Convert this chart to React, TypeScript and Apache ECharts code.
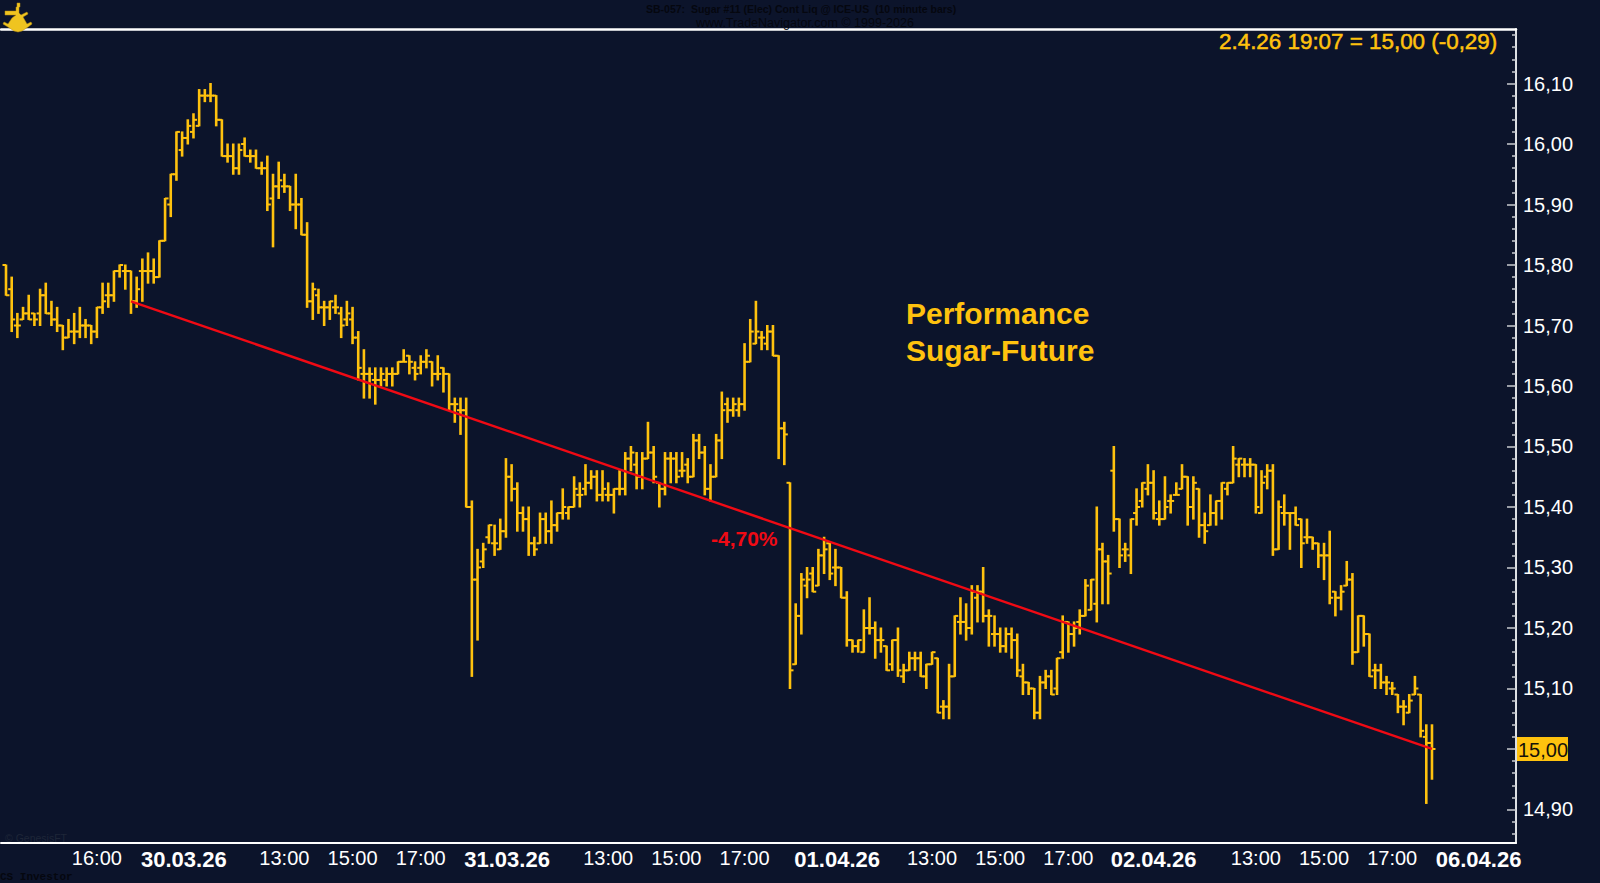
import React, { useEffect, useRef } from "react";
import * as echarts from "echarts";

const BG = "#0C142B";
const AMBER = "#FFC20E";
const FONT = "'Liberation Sans', Arial, sans-serif";

const highs = [
15.80,15.78,15.72,15.73,15.75,15.72,15.76,15.77,15.74,15.73,
15.70,15.71,15.72,15.73,15.71,15.70,15.73,15.77,15.77,15.79,
15.80,15.80,15.79,15.78,15.81,15.82,15.81,15.84,15.91,15.95,
16.02,16.02,16.04,16.05,16.09,16.09,16.10,16.08,16.04,16.00,
16.00,16.00,16.01,15.99,15.99,15.97,15.98,15.95,15.97,15.95,
15.93,15.95,15.91,15.87,15.77,15.76,15.74,15.74,15.75,15.73,
15.74,15.73,15.69,15.66,15.63,15.63,15.63,15.63,15.63,15.64,
15.66,15.65,15.64,15.65,15.66,15.64,15.65,15.63,15.62,15.58,
15.58,15.58,15.41,15.33,15.34,15.37,15.37,15.38,15.48,15.47,
15.44,15.40,15.40,15.35,15.39,15.39,15.41,15.39,15.43,15.40,
15.45,15.44,15.47,15.46,15.46,15.46,15.44,15.43,15.46,15.49,
15.50,15.49,15.49,15.54,15.50,15.44,15.49,15.49,15.49,15.49,
15.48,15.52,15.52,15.50,15.47,15.52,15.59,15.58,15.58,15.58,
15.67,15.71,15.74,15.69,15.70,15.70,15.65,15.54,15.44,15.24,
15.29,15.30,15.30,15.33,15.35,15.34,15.33,15.30,15.26,15.18,
15.18,15.23,15.25,15.21,15.20,15.17,15.18,15.20,15.14,15.16,
15.16,15.16,15.14,15.16,15.15,15.08,15.14,15.22,15.25,15.24,
15.27,15.27,15.30,15.23,15.22,15.20,15.20,15.20,15.19,15.14,
15.11,15.10,15.12,15.13,15.13,15.15,15.22,15.21,15.21,15.23,
15.28,15.28,15.40,15.34,15.32,15.50,15.38,15.34,15.38,15.43,
15.44,15.47,15.46,15.41,15.45,15.42,15.44,15.47,15.45,15.45,
15.43,15.39,15.42,15.41,15.44,15.44,15.50,15.48,15.48,15.48,
15.47,15.46,15.47,15.47,15.41,15.42,15.39,15.40,15.38,15.38,
15.35,15.34,15.34,15.36,15.26,15.27,15.31,15.29,15.22,15.22,
15.19,15.14,15.14,15.12,15.11,15.09,15.08,15.09,15.12,15.09,
15.04,15.04];

const lows = [
15.75,15.69,15.68,15.71,15.71,15.70,15.70,15.72,15.70,15.69,
15.66,15.68,15.67,15.68,15.68,15.67,15.68,15.72,15.73,15.74,
15.78,15.76,15.72,15.73,15.74,15.77,15.77,15.78,15.84,15.88,
15.94,15.98,16.00,16.01,16.03,16.07,16.07,16.03,15.98,15.97,
15.95,15.95,15.98,15.97,15.96,15.95,15.89,15.83,15.91,15.92,
15.89,15.86,15.85,15.73,15.71,15.72,15.70,15.71,15.72,15.68,
15.70,15.67,15.61,15.58,15.58,15.57,15.60,15.60,15.60,15.62,
15.64,15.62,15.61,15.62,15.63,15.60,15.61,15.59,15.56,15.54,
15.52,15.40,15.12,15.18,15.30,15.34,15.32,15.33,15.35,15.41,
15.36,15.36,15.32,15.32,15.34,15.34,15.34,15.36,15.38,15.38,
15.40,15.40,15.42,15.43,15.41,15.41,15.41,15.39,15.42,15.42,
15.46,15.43,15.43,15.48,15.44,15.40,15.42,15.44,15.44,15.45,
15.44,15.45,15.48,15.42,15.41,15.45,15.48,15.54,15.55,15.55,
15.56,15.64,15.67,15.66,15.66,15.65,15.48,15.47,15.10,15.14,
15.19,15.25,15.26,15.27,15.29,15.28,15.27,15.25,15.17,15.16,
15.16,15.16,15.19,15.15,15.16,15.13,15.13,15.12,15.11,15.13,
15.13,15.12,15.10,15.14,15.06,15.05,15.05,15.12,15.19,15.18,
15.19,15.21,15.21,15.17,15.17,15.16,15.16,15.15,15.12,15.09,
15.09,15.05,15.05,15.10,15.09,15.09,15.15,15.16,15.17,15.19,
15.22,15.23,15.21,15.24,15.24,15.36,15.30,15.31,15.29,15.37,
15.40,15.42,15.38,15.37,15.38,15.39,15.42,15.43,15.37,15.38,
15.35,15.34,15.37,15.37,15.38,15.42,15.44,15.45,15.45,15.45,
15.39,15.39,15.43,15.32,15.33,15.37,15.33,15.37,15.30,15.34,
15.33,15.30,15.28,15.24,15.22,15.23,15.27,15.14,15.16,15.17,
15.12,15.10,15.10,15.09,15.09,15.06,15.04,15.06,15.09,15.02,
14.91,14.95];

const opens = [
15.80,15.76,15.70,15.71,15.72,15.72,15.72,15.75,15.72,15.71,
15.70,15.68,15.69,15.69,15.70,15.70,15.69,15.73,15.75,15.75,
15.79,15.79,15.79,15.74,15.79,15.79,15.79,15.78,15.84,15.90,
15.95,15.99,16.01,16.02,16.03,16.08,16.08,16.08,16.04,15.98,
15.98,15.96,16.00,15.98,15.98,15.96,15.96,15.91,15.93,15.93,
15.93,15.90,15.90,15.85,15.74,15.75,15.73,15.73,15.73,15.72,
15.71,15.71,15.68,15.62,15.62,15.61,15.61,15.61,15.62,15.62,
15.64,15.65,15.63,15.63,15.64,15.64,15.62,15.63,15.62,15.57,
15.56,15.56,15.40,15.28,15.31,15.35,15.34,15.33,15.36,15.45,
15.43,15.39,15.38,15.34,15.34,15.38,15.36,15.37,15.39,15.39,
15.40,15.42,15.43,15.44,15.45,15.42,15.42,15.42,15.43,15.43,
15.48,15.47,15.45,15.48,15.49,15.44,15.43,15.48,15.48,15.46,
15.47,15.45,15.51,15.49,15.43,15.45,15.51,15.57,15.56,15.56,
15.57,15.64,15.67,15.68,15.67,15.69,15.65,15.53,15.44,15.14,
15.22,15.27,15.29,15.27,15.32,15.34,15.30,15.30,15.25,15.18,
15.17,15.16,15.20,15.20,15.18,15.17,15.14,15.18,15.12,15.13,
15.15,15.15,15.12,15.14,15.15,15.07,15.07,15.12,15.21,15.21,
15.20,15.25,15.26,15.22,15.19,15.19,15.17,15.19,15.18,15.12,
15.11,15.10,15.06,15.11,15.12,15.10,15.16,15.21,15.19,15.21,
15.22,15.23,15.24,15.33,15.31,15.46,15.38,15.33,15.32,15.39,
15.41,15.43,15.44,15.38,15.38,15.41,15.42,15.43,15.45,15.40,
15.43,15.37,15.37,15.39,15.41,15.43,15.44,15.47,15.47,15.47,
15.47,15.39,15.45,15.46,15.33,15.39,15.39,15.39,15.38,15.35,
15.35,15.34,15.32,15.32,15.26,15.25,15.27,15.28,15.16,15.22,
15.19,15.13,15.13,15.11,15.10,15.09,15.07,15.06,15.09,15.09,
15.02,15.01];

const closes = [
15.75,15.71,15.70,15.72,15.71,15.71,15.75,15.72,15.71,15.70,
15.68,15.69,15.69,15.70,15.70,15.69,15.73,15.74,15.75,15.79,
15.80,15.79,15.74,15.76,15.79,15.79,15.78,15.84,15.91,15.95,
16.02,16.01,16.03,16.04,16.08,16.08,16.08,16.04,15.98,15.98,
15.96,15.99,15.98,15.98,15.96,15.96,15.90,15.93,15.94,15.93,
15.90,15.90,15.85,15.74,15.76,15.73,15.73,15.74,15.73,15.70,
15.72,15.68,15.63,15.62,15.62,15.61,15.62,15.62,15.62,15.64,
15.64,15.64,15.62,15.64,15.65,15.62,15.62,15.62,15.57,15.57,
15.56,15.40,15.28,15.30,15.33,15.37,15.34,15.36,15.45,15.43,
15.39,15.38,15.34,15.33,15.38,15.36,15.37,15.39,15.40,15.40,
15.43,15.42,15.44,15.45,15.42,15.43,15.42,15.43,15.43,15.48,
15.49,15.45,15.48,15.49,15.45,15.43,15.48,15.48,15.45,15.46,
15.45,15.51,15.49,15.43,15.45,15.51,15.56,15.56,15.57,15.57,
15.64,15.69,15.69,15.68,15.69,15.65,15.53,15.52,15.13,15.22,
15.28,15.28,15.26,15.32,15.33,15.29,15.30,15.25,15.18,15.17,
15.18,15.20,15.20,15.18,15.18,15.13,15.18,15.13,15.13,15.15,
15.15,15.12,15.14,15.16,15.06,15.07,15.12,15.22,15.21,15.20,
15.26,15.26,15.22,15.22,15.19,15.17,15.19,15.18,15.13,15.11,
15.10,15.06,15.11,15.12,15.09,15.15,15.21,15.19,15.20,15.22,
15.27,15.28,15.33,15.31,15.29,15.38,15.32,15.33,15.38,15.40,
15.44,15.44,15.39,15.38,15.40,15.41,15.42,15.45,15.40,15.44,
15.37,15.36,15.39,15.41,15.44,15.44,15.48,15.48,15.47,15.47,
15.40,15.44,15.46,15.33,15.40,15.39,15.39,15.37,15.34,15.35,
15.34,15.32,15.32,15.25,15.25,15.26,15.28,15.16,15.22,15.19,
15.12,15.13,15.11,15.11,15.10,15.07,15.07,15.08,15.10,15.03,
15.01,15.00];

const trendLine = [[22, 15.74], [251, 15.0]];
const xTickIndex = [16, 31.3, 49, 61, 73, 88.2, 106, 118, 130, 146.3, 163, 175, 187, 202, 220, 232, 244, 259.2];
const xTickText = ["16:00","30.03.26","13:00","15:00","17:00","31.03.26","13:00","15:00","17:00","01.04.26","13:00","15:00","17:00","02.04.26","13:00","15:00","17:00","06.04.26"];
const yMajor = [14.9,15.0,15.1,15.2,15.3,15.4,15.5,15.6,15.7,15.8,15.9,16.0,16.1];
const yLabels = [14.9,15.1,15.2,15.3,15.4,15.5,15.6,15.7,15.8,15.9,16.0,16.1];
const yMinor = [14.86,14.88,14.92,14.94,14.96,14.98,15.02,15.04,15.06,15.08,15.12,15.14,15.16,15.18,15.22,15.24,15.26,15.28,15.32,15.34,15.36,15.38,15.42,15.44,15.46,15.48,15.52,15.54,15.56,15.58,15.62,15.64,15.66,15.68,15.72,15.74,15.76,15.78,15.82,15.84,15.86,15.88,15.92,15.94,15.96,15.98,16.02,16.04,16.06,16.08,16.12,16.14,16.16,16.18];

const X_MIN = -0.88, X_MAX = 265.79, Y_MIN = 14.8446, Y_MAX = 16.1901;

const LOGO = "M17 3H20V7H19V13L21 15L27 12L28 14L23 17L27 24L31 22L32 24L28 27L22 31L18 32L14 31L8 27L3 24L4 22L8 24L12 18L16 15H5V11H16V7H17Z";
echarts.graphic.registerShape("logo", echarts.graphic.extendPath(LOGO, {}) as any);

export default function App() {
  const ref = useRef<HTMLDivElement>(null);
  useEffect(() => {
    document.body.style.margin = "0";
    document.body.style.background = BG;
    const chart = echarts.init(ref.current!, null, { renderer: "svg" });
    const ohlc = highs.map((h, i) => [i, opens[i], h, lows[i], closes[i]]);
    const renderBar = (_: any, api: any) => {
      const i = api.value(0);
      const [x0, yH] = api.coord([i, api.value(2)]);
      const [, yL] = api.coord([i, api.value(3)]);
      const [, yO] = api.coord([i, api.value(1)]);
      const [, yC] = api.coord([i, api.value(4)]);
      const x = x0;
      const style = { stroke: AMBER, lineWidth: 2.6, fill: "none" };
      return {
        type: "group",
        children: [
          { type: "line", shape: { x1: x, y1: yH - 0.5, x2: x, y2: yL + 0.5 }, style },
          { type: "line", shape: { x1: x - 3.5, y1: yO, x2: x, y2: yO }, style: { ...style, lineWidth: 2 } },
          { type: "line", shape: { x1: x, y1: yC, x2: x + 3.5, y2: yC }, style: { ...style, lineWidth: 2 } },
        ],
      };
    };
    const txt = (text: string, x: number, y: number, font: string, fill: string, extra: any = {}) => ({
      type: "text", x, y, z: 100,
      style: { text, fill, font, textVerticalAlign: "middle", ...extra },
    });
    chart.setOption({
      animation: false,
      backgroundColor: BG,
      textStyle: { fontFamily: FONT },
      grid: { left: 1, right: 84, top: 29, bottom: 40, containLabel: false },
      xAxis: [
        {
          type: "value", min: X_MIN, max: X_MAX, position: "bottom",
          splitLine: { show: false },
          axisLine: { show: true, onZero: false, lineStyle: { color: "#FFFFFF", width: 2 } },
          axisTick: { show: false },
          axisLabel: {
            customValues: xTickIndex, margin: 5, color: "#FFFFFF", fontSize: 20, fontFamily: FONT,
            hideOverlap: false, showMinLabel: true, showMaxLabel: true,
            formatter: (v: number) => {
              const t = xTickText[xTickIndex.indexOf(v)] ?? "";
              return t.includes(".") ? `{d|${t}}` : t;
            },
            rich: { d: { fontWeight: "bold", fontSize: 22, color: "#FFFFFF", fontFamily: FONT } },
          },
        },
        {
          type: "value", min: X_MIN, max: X_MAX, position: "top",
          splitLine: { show: false },
          axisLine: { show: true, onZero: false, lineStyle: { color: "#FFFFFF", width: 2.5 } },
          axisTick: { show: false }, axisLabel: { show: false },
        },
      ],
      yAxis: [
        {
          type: "value", min: Y_MIN, max: Y_MAX, position: "right",
          splitLine: { show: false },
          axisLine: { show: true, onZero: false, lineStyle: { color: "#DDE0E4", width: 2 } },
          axisTick: { show: true, inside: true, length: 9, customValues: yMajor, lineStyle: { color: "#C8CBD0", width: 1.5 } },
          axisLabel: {
            customValues: yLabels, margin: 7, color: "#FFFFFF", fontSize: 20, fontFamily: FONT,
            hideOverlap: false,
            formatter: (v: number) => v.toFixed(2).replace(".", ","),
          },
        },
        {
          type: "value", min: Y_MIN, max: Y_MAX, position: "right",
          splitLine: { show: false },
          axisLine: { show: false, onZero: false },
          axisTick: { show: true, inside: true, length: 4, customValues: yMinor, lineStyle: { color: "#C8CBD0", width: 1.5 } },
          axisLabel: { show: false },
        },
      ],
      series: [
        {
          type: "custom", name: "Sugar #11", xAxisIndex: 0, yAxisIndex: 0, clip: false,
          encode: { x: 0, y: [1, 2, 3, 4] }, data: ohlc, renderItem: renderBar, z: 2,
        },
        {
          type: "line", name: "Trend", xAxisIndex: 0, yAxisIndex: 0, data: trendLine, showSymbol: false, symbol: "none",
          lineStyle: { color: "#F00A14", width: 2.4 }, z: 3,
        },
      ],
      graphic: [
        { type: "logo", x: 0, y: 0, scaleX: 1, scaleY: 1, z: 100, style: { fill: "#EFC420", stroke: "#B98F10", lineWidth: 0.5 } },
        { type: "rect", z: 99, shape: { x: 1517, y: 737, width: 51, height: 24 }, style: { fill: AMBER } },
        txt("15,00", 1518, 749.5, `20px ${FONT}`, "#14120A"),
        txt("2.4.26 19:07 = 15,00 (-0,29)", 1219, 41, `22.4px ${FONT}`, AMBER, { stroke: AMBER, lineWidth: 0.5 }),
        txt("Performance", 906, 313, `bold 30px ${FONT}`, AMBER),
        txt("Sugar-Future", 906, 350, `bold 30px ${FONT}`, AMBER),
        txt("-4,70%", 711, 538, `bold 21px ${FONT}`, "#F00A14"),
        txt("SB-057:  Sugar #11 (Elec) Cont Liq @ ICE-US  (10 minute bars)", 646, 9, `bold 10.5px ${FONT}`, "#05070F"),
        txt("www.TradeNavigator.com \u00A9 1999-2026", 696, 23, `12.5px ${FONT}`, "#05070F"),
        txt("\u00A9 GenesisFT", 5, 838, `10.5px ${FONT}`, "#1E2638"),
        txt("CS Investor", 0, 877, `bold 11px 'Liberation Mono', monospace`, "#05070F"),
      ],
    });
    return () => chart.dispose();
  }, []);
  return <div ref={ref} style={{ position: "fixed", left: 0, top: 0, width: 1600, height: 883 }} />;
}
